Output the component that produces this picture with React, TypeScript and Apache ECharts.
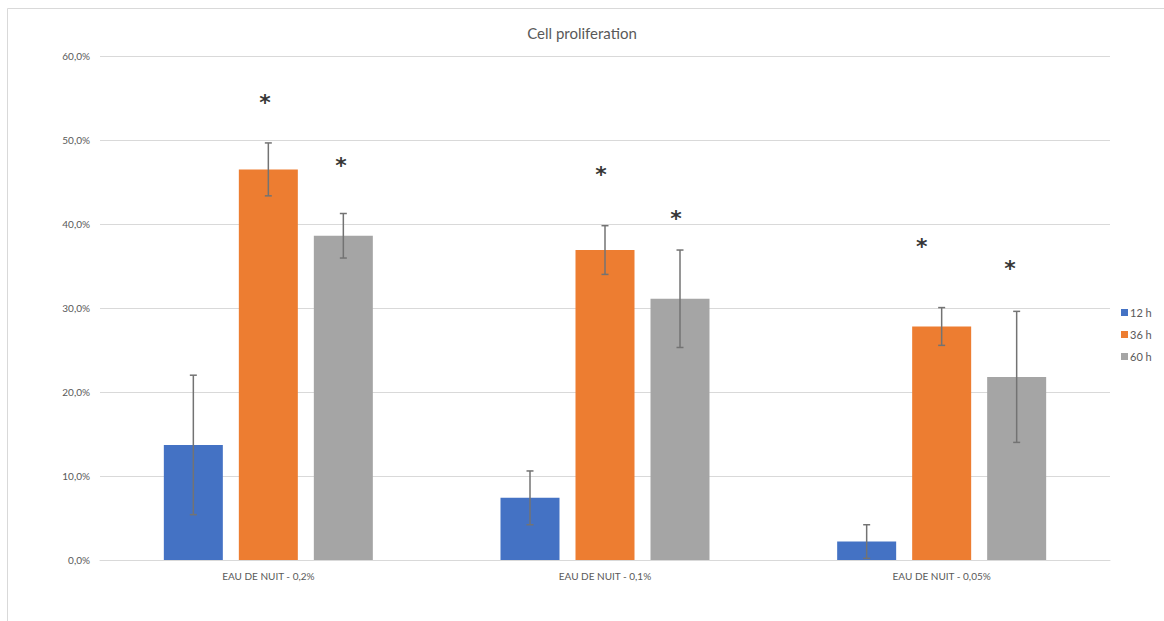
import React, { useEffect, useRef } from "react";
import * as echarts from "echarts";

const categories = ["EAU DE NUIT - 0,2%", "EAU DE NUIT - 0,1%", "EAU DE NUIT - 0,05%"];
const seriesNames = ["12 h", "36 h", "60 h"];
const values12h = [13.7, 7.4, 2.2];
const values36h = [46.5, 36.9, 27.8];
const values60h = [38.6, 31.1, 21.8];
const err12h = [8.3, 3.2, 2.0];
const err36h = [3.15, 2.9, 2.25];
const err60h = [2.65, 5.8, 7.8];
// asterisk annotations: position along category axis (0..3) and height in %
const starX = [0.49, 0.716, 1.488, 1.711, 2.441, 2.703];
const starY = [54.8, 47.3, 46.3, 41.0, 37.7, 35.1];
const yTicks = { min: 0, max: 60, interval: 10 };

const colors = ["#4472c4", "#ed7d31", "#a5a5a5"];
const FONT = "Lato, 'Liberation Sans', sans-serif";

export default function App() {
  const ref = useRef<HTMLDivElement>(null);
  useEffect(() => {
    if (!ref.current) return;
    const chart = echarts.init(ref.current, undefined, { renderer: "svg" });
    const vals = [values12h, values36h, values60h];
    const errs = [err12h, err36h, err60h];
    const barWidth = 59;
    const gapPx = 16;

    const barSeries = seriesNames.map((name, i) => ({
      name,
      type: "bar",
      data: vals[i],
      barWidth,
      barGap: (gapPx / barWidth) * 100 + "%",
      itemStyle: { color: colors[i] },
      xAxisIndex: 0,
      yAxisIndex: 0,
    }));

    const errSeries = seriesNames.map((name, i) => ({
      name: name + " err",
      type: "custom",
      xAxisIndex: 0,
      yAxisIndex: 0,
      z: 5,
      silent: true,
      data: vals[i].map((v, k) => [k, v - errs[i][k], v + errs[i][k]]),
      renderItem: (params: any, api: any) => {
        const k = api.value(0);
        const lo = api.coord([k, api.value(1)]);
        const hi = api.coord([k, api.value(2)]);
        const x = lo[0] + (i - 1) * (barWidth + gapPx);
        const cap = 3.5;
        const style = { stroke: "#737373", lineWidth: 1.5 };
        return {
          type: "group",
          children: [
            { type: "line", shape: { x1: x, y1: lo[1], x2: x, y2: hi[1] }, style },
            { type: "line", shape: { x1: x - cap, y1: lo[1], x2: x + cap, y2: lo[1] }, style },
            { type: "line", shape: { x1: x - cap, y1: hi[1], x2: x + cap, y2: hi[1] }, style },
          ],
        };
      },
    }));

    const option: any = {
      animation: false,
      textStyle: { fontFamily: FONT },
      title: {
        text: "Cell proliferation",
        left: "center",
        top: 20,
        textStyle: { fontSize: 15, fontWeight: "normal", color: "#595959", fontFamily: FONT },
      },
      legend: {
        orient: "vertical",
        left: 1116,
        top: 302,
        itemWidth: 7,
        itemHeight: 7,
        itemGap: 11,
        icon: "rect",
        data: seriesNames,
        textStyle: { fontSize: 11, color: "#595959", fontFamily: FONT, padding: [0, 0, 0, -3] },
      },
      grid: { left: 100, right: 54, top: 56, bottom: 61 },
      xAxis: [
        {
          type: "category",
          data: categories,
          axisTick: { show: false },
          axisLine: { lineStyle: { color: "#d9d9d9", width: 1 } },
          axisLabel: { fontSize: 10, color: "#595959", margin: 11, fontFamily: FONT },
        },
        { type: "value", min: 0, max: 3, show: false },
      ],
      yAxis: {
        type: "value",
        min: yTicks.min,
        max: yTicks.max,
        interval: yTicks.interval,
        axisLine: { show: false },
        axisTick: { show: false },
        splitLine: { lineStyle: { color: "#d9d9d9", width: 1 } },
        axisLabel: {
          fontSize: 10,
          color: "#595959",
          margin: 10,
          fontFamily: FONT,
          formatter: (v: number) => v.toFixed(1).replace(".", ",") + "%",
        },
      },
      graphic: [
        {
          type: "rect",
          shape: { x: 7.5, y: 8.5, width: 1200, height: 700 },
          style: { fill: "none", stroke: "#d9d9d9", lineWidth: 1 },
          silent: true,
          z: -10,
        },
      ],
      series: [
        ...barSeries,
        ...errSeries,
        {
          type: "scatter",
          xAxisIndex: 1,
          yAxisIndex: 0,
          symbolSize: 1,
          itemStyle: { color: "rgba(0,0,0,0)" },
          silent: true,
          data: starX.map((x, k) => [x, starY[k]]),
          label: {
            show: true,
            position: "inside",
            formatter: "*",
            fontSize: 22,
            fontWeight: "bold",
            color: "#000",
            fontFamily: "'DejaVu Sans', sans-serif",
            offset: [0, 3],
          },
        },
      ],
    };
    chart.setOption(option);
    return () => chart.dispose();
  }, []);
  return (
    <div
      ref={ref}
      style={{ position: "fixed", left: 0, top: 0, width: 1164, height: 621, background: "#fff" }}
    />
  );
}
